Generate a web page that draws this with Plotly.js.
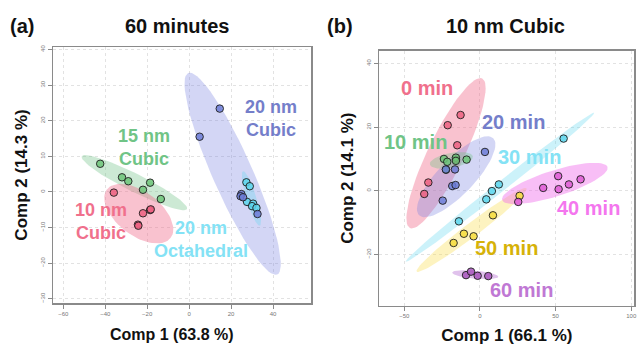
<!DOCTYPE html>
<html><head><meta charset="utf-8">
<script src="https://cdn.plot.ly/plotly-3.0.1.min.js"></script>
<style>html,body{margin:0;padding:0;background:#fff}#plot{width:638px;height:345px}</style>
</head><body><div id="plot"></div>
<script>
// ---------- Panel (a): 60 minutes (PCA scores) ----------
const a10x  = [-35.9, -22.0, -18.6, -18.3, -24.4, -24.2];
const a10y  = [-0.2, -6.0, -5.1, -4.9, -9.2, -9.5];
const a15x  = [-42.4, -32.0, -29.0, -22.0, -18.6, -13.5];
const a15y  = [7.9, 4.1, 3.0, 0.6, 2.6, -2.0];
const a20cx = [14.6, 5.0, 24.9, 24.5, 25.7, 32.6];
const a20cy = [23.4, 15.5, -0.6, -1.2, -1.5, -6.2];
const a20ox = [27.3, 28.9, 27.6, 30.5, 30.0, 32.1];
const a20oy = [2.7, 1.6, -2.8, -3.3, -4.0, -4.5];
// ellipse: [centerX, centerY, axis1X, axis1Y, axis2X, axis2Y] (data units)
const ellA10  = [-24.0, -6.1, 15.2, -6.8, 6.3, 4.9];
const ellA15  = [-26.1, 2.6, -25.1, 7.4, 1.9, 2.26];
const ellA20c = [20.75, 5.1, -21.25, 28.3, 8.7, 2.28];
const ellA20o = [29.7, -1.85, -4.0, 7.65, 2.27, 0.41];
const labelsA = ['20 nm<br>Cubic', '15 nm<br>Cubic', '10 nm<br>Cubic', '20 nm<br>Octahedral'];
const labelAx = [38.8, -21.4, -42.2, 5.8];
const labelAy = [20.6, 12.4, -8.4, -13.3];

// ---------- Panel (b): 10 nm Cubic ----------
const b0x  = [-12.8, -21.3, -15.0, -15.9, -34.1, -36.8];
const b0y  = [23.8, 20.6, 14.3, 9.8, 2.6, -1.0];
const b10x = [-23.8, -21.6, -15.9, -8.8, -22.4, -15.9];
const b10y = [10.0, 9.1, 10.4, 9.8, 6.6, 9.4];
const b20x = [3.3, -16.5, -22.5, -18.3, -16.1, -24.6];
const b20y = [12.2, 6.7, 6.7, 1.5, 1.8, -3.1];
const b30x = [55.3, 12.5, 7.9, 4.2, -13.9];
const b30y = [16.4, 2.0, -0.1, -2.7, -9.6];
const b40x = [51.7, 41.8, 52.0, 58.8, 66.5, 25.3];
const b40y = [4.6, 0.9, 0.5, 2.0, 3.6, -3.5];
const b50x = [26.2, 8.6, -10.6, -4.2, -17.4];
const b50y = [-1.6, -7.7, -13.5, -14.3, -16.4];
const b60x = [-9.2, -5.9, -1.5, 5.5];
const b60y = [-26.5, -25.4, -26.7, -26.8];
const ellB0  = [-22.4, 11.8, 23.9, 23.5, 10.7, -2.46];
const ellB10 = [-18.9, 9.55, 14.15, 1.25, 0.9, -2.31];
const ellB20 = [-15.7, 4.4, 24.5, 12.1, 8.5, -3.9];
const ellB30 = [13.2, 1.1, 62.3, 23.4, 2.05, -1.23];
const ellB40 = [49.5, 2.3, 34.8, 5.2, 2.58, -3.9];
const ellB50 = [-5.5, -12.3, 36.3, 13.1, 2.8, -1.75];
const ellB60 = [-3.1, -26.35, 15.2, -0.65, 0.23, 1.25];
const labelsB = ['0 min', '10 min', '20 min', '30 min', '40 min', '50 min', '60 min'];
const labelBx = [-34.7, -42.9, 22.0, 32.6, 71.5, 17.6, 27.5];
const labelBy = [32.2, 15.4, 21.7, 10.7, -5.5, -18.1, -31.2];

// ---------- colours ----------
const C = {
  pink:   {fill:'rgba(240,110,140,0.42)', pt:'rgba(236,96,128,0.85)', txt:'rgb(240,112,140)'},
  green:  {fill:'rgba(115,195,135,0.36)', pt:'rgba(108,196,120,0.85)', txt:'rgb(112,196,134)'},
  blue:   {fill:'rgba(120,132,225,0.33)', pt:'rgba(108,124,214,0.85)', txt:'rgb(116,126,202)'},
  cyan:   {fill:'rgba(100,215,240,0.33)', pt:'rgba(92,214,236,0.85)', txt:'rgb(132,226,245)'},
  magenta:{fill:'rgba(240,110,235,0.45)', pt:'rgba(222,92,212,0.85)', txt:'rgb(244,118,238)'},
  yellow: {fill:'rgba(250,222,80,0.36)', pt:'rgba(246,222,66,0.9)', txt:'rgb(214,178,8)'},
  purple: {fill:'rgba(180,110,210,0.42)', pt:'rgba(172,92,192,0.9)', txt:'rgb(192,120,212)'}
};

function ellipse(p, col, xa, ya) {
  const xs = [], ys = [];
  for (let i = 0; i <= 72; i++) {
    const t = 2 * Math.PI * i / 72;
    xs.push(p[0] + p[2] * Math.cos(t) + p[4] * Math.sin(t));
    ys.push(p[1] + p[3] * Math.cos(t) + p[5] * Math.sin(t));
  }
  return {x: xs, y: ys, xaxis: xa, yaxis: ya, type: 'scatter', mode: 'lines',
          fill: 'toself', fillcolor: col, line: {width: 0, color: 'rgba(0,0,0,0)'},
          hoverinfo: 'skip', showlegend: false};
}
function pts(x, y, col, xa, ya) {
  return {x: x, y: y, xaxis: xa, yaxis: ya, type: 'scatter', mode: 'markers',
          marker: {size: 7.5, color: col, line: {width: 1, color: 'rgba(30,30,30,0.9)'}},
          showlegend: false};
}

const traces = [
  ellipse(ellA20c, C.blue.fill, 'x', 'y'),
  ellipse(ellA20o, C.cyan.fill, 'x', 'y'),
  ellipse(ellA15, C.green.fill, 'x', 'y'),
  ellipse(ellA10, C.pink.fill, 'x', 'y'),
  pts(a15x, a15y, C.green.pt, 'x', 'y'),
  pts(a10x, a10y, C.pink.pt, 'x', 'y'),
  pts(a20ox, a20oy, C.cyan.pt, 'x', 'y'),
  pts(a20cx, a20cy, C.blue.pt, 'x', 'y'),

  ellipse(ellB0, C.pink.fill, 'x2', 'y2'),
  ellipse(ellB20, C.blue.fill, 'x2', 'y2'),
  ellipse(ellB10, C.green.fill, 'x2', 'y2'),
  ellipse(ellB30, C.cyan.fill, 'x2', 'y2'),
  ellipse(ellB50, C.yellow.fill, 'x2', 'y2'),
  ellipse(ellB40, C.magenta.fill, 'x2', 'y2'),
  ellipse(ellB60, C.purple.fill, 'x2', 'y2'),
  pts(b0x, b0y, C.pink.pt, 'x2', 'y2'),
  pts(b10x, b10y, C.green.pt, 'x2', 'y2'),
  pts(b20x, b20y, C.blue.pt, 'x2', 'y2'),
  pts(b30x, b30y, C.cyan.pt, 'x2', 'y2'),
  pts(b50x, b50y, C.yellow.pt, 'x2', 'y2'),
  pts(b40x, b40y, C.magenta.pt, 'x2', 'y2'),
  pts(b60x, b60y, C.purple.pt, 'x2', 'y2')
];

const FONT = 'Liberation Sans, Arial, sans-serif';
const tickF = {family: FONT, size: 6, color: '#777'};
function axis(extra) {
  return Object.assign({
    showline: true, mirror: true, linecolor: '#8a8a8a', linewidth: 1.5,
    ticks: 'outside', ticklen: 4, tickwidth: 1, tickcolor: '#8a8a8a',
    tickfont: tickF, showgrid: true, gridcolor: '#e2e2e2', griddash: 'dot', gridwidth: 1,
    zeroline: false, automargin: false
  }, extra);
}
const titleF = {family: FONT, size: 17, color: '#111', weight: 'bold'};

const annotations = [];
const colA = [C.blue.txt, C.green.txt, C.pink.txt, C.cyan.txt];
labelsA.forEach((t, i) => annotations.push({x: labelAx[i], y: labelAy[i], xref: 'x', yref: 'y',
  text: t, showarrow: false, font: {family: FONT, size: 18, color: colA[i], weight: 'bold'},
  align: 'center', xanchor: 'center', yanchor: 'middle'}));
const colB = [C.pink.txt, C.green.txt, C.blue.txt, C.cyan.txt, C.magenta.txt, C.yellow.txt, C.purple.txt];
labelsB.forEach((t, i) => annotations.push({x: labelBx[i], y: labelBy[i], xref: 'x2', yref: 'y2',
  text: t, showarrow: false, font: {family: FONT, size: 20, color: colB[i], weight: 'bold'},
  xanchor: 'center', yanchor: 'middle'}));
const headF = {family: FONT, size: 20, color: '#111', weight: 'bold'};
annotations.push({x: 21.5/638, y: 1 - 26/345, xref: 'paper', yref: 'paper', text: '(a)', showarrow: false, font: headF, xanchor: 'center', yanchor: 'middle'});
annotations.push({x: 177/638, y: 1 - 26.5/345, xref: 'paper', yref: 'paper', text: '60 minutes', showarrow: false, font: headF, xanchor: 'center', yanchor: 'middle'});
annotations.push({x: 340/638, y: 1 - 26/345, xref: 'paper', yref: 'paper', text: '(b)', showarrow: false, font: headF, xanchor: 'center', yanchor: 'middle'});
annotations.push({x: 505/638, y: 1 - 26.5/345, xref: 'paper', yref: 'paper', text: '10 nm Cubic', showarrow: false, font: headF, xanchor: 'center', yanchor: 'middle'});
// x-axis title of panel (a): sits left of the plot centre in the original
annotations.push({x: 172/638, y: 1 - 334/345, xref: 'paper', yref: 'paper', text: 'Comp 1 (63.8 %)', showarrow: false,
  font: Object.assign({}, titleF, {size: 16}), xanchor: 'center', yanchor: 'middle'});

const layout = {
  width: 638, height: 345, margin: {l: 0, r: 0, t: 0, b: 0},
  paper_bgcolor: '#fff', plot_bgcolor: '#fff', showlegend: false,
  xaxis: axis({domain: [53/638, 311/638], range: [-64.9, 58.1], tickvals: [-60, -40, -20, 0, 20, 40], anchor: 'y'}),
  yaxis: axis({domain: [42/345, 298/345], range: [-31.2, 40.7], tickvals: [-30, -20, -10, 0, 10, 20, 30, 40],
    tickangle: -90, title: {text: 'Comp 2 (14.3 %)', font: titleF, standoff: 8}, anchor: 'x'}),
  xaxis2: axis({domain: [379.3/638, 634.3/638], range: [-66.5, 102], tickvals: [-50, 0, 50, 100],
    title: {text: 'Comp 1 (66.1 %)', font: titleF, standoff: 11}, anchor: 'y2'}),
  yaxis2: axis({domain: [39.3/345, 294.3/345], range: [-36.1, 44], tickvals: [-20, 0, 20, 40],
    tickangle: -90, title: {text: 'Comp 2 (14.1 %)', font: titleF, standoff: 8}, anchor: 'x2'}),
  annotations: annotations
};

Plotly.newPlot('plot', traces, layout, {staticPlot: true, displayModeBar: false});
</script></body></html>
